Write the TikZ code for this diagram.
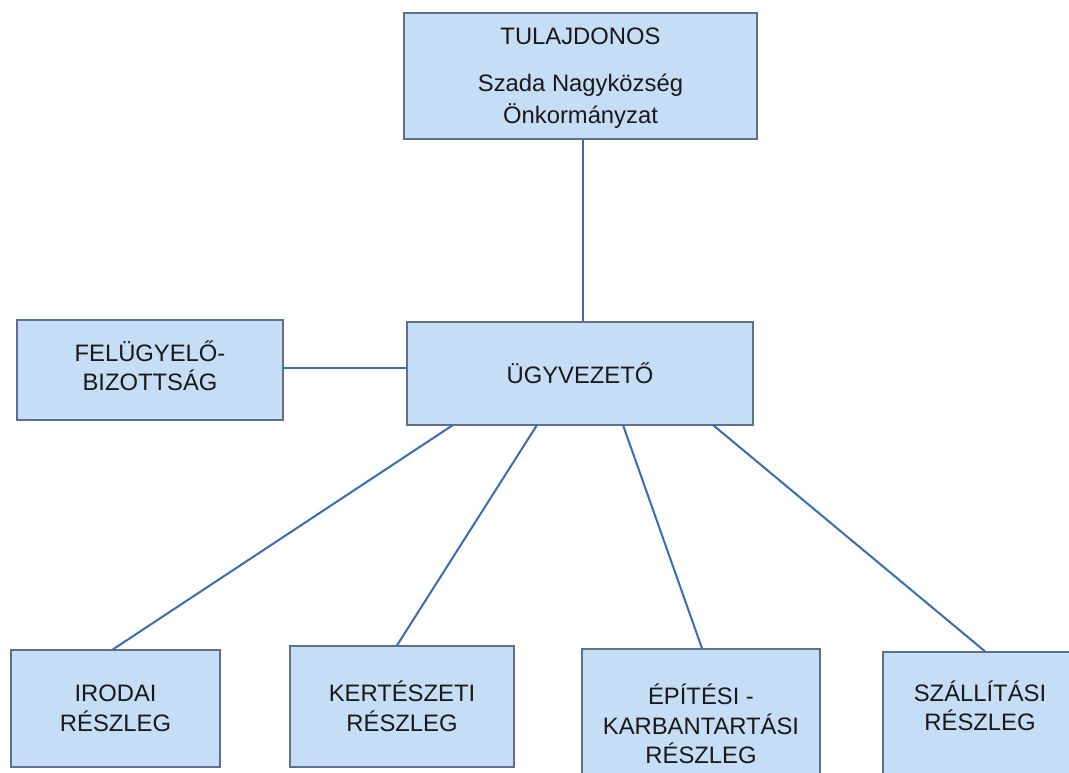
\documentclass[tikz,border=0pt]{standalone}
\usepackage{fontspec}
\setmainfont{Liberation Sans}
\definecolor{boxfill}{RGB}{197,222,246}
\definecolor{boxdraw}{RGB}{95,112,140}
\definecolor{linecol}{RGB}{58,108,178}
\definecolor{txtcol}{RGB}{25,25,25}
\begin{document}
\begin{tikzpicture}[x=1pt,y=-1pt,
  box/.style={draw=boxdraw, line width=1.3pt, fill=boxfill, rectangle, inner sep=0pt,
    align=center, text=txtcol, font=\fontsize{23.8}{29.5}\selectfont},
  txt/.style={inner sep=0pt, align=center, text=txtcol, font=\fontsize{23.8}{29.5}\selectfont},
  conn/.style={draw=linecol, line width=2pt}]
\useasboundingbox (0,0) rectangle (1069,772);
\clip (0,0) rectangle (1069,772);
\fill[white] (0,0) rectangle (1069,772);

\node[box, minimum width=353pt, minimum height=126pt] (tul) at (580.5,76) {};
\node[txt] (tult) at (580.5,78)
  {TULAJDONOS\\[17pt]Szada Nagyközség\\[2.5pt]Önkormányzat};
\node[box, minimum width=266pt, minimum height=100pt] (fel) at (150,370) {};
\node[txt] (felt) at (150,366) {FELÜGYELŐ-\\BIZOTTSÁG};
\node[box, minimum width=346pt, minimum height=103pt] (ugy) at (580,373.5)
  {ÜGYVEZETŐ};
\node[box, minimum width=209pt, minimum height=117pt] (iro) at (115.5,708.5)
  {IRODAI\\RÉSZLEG};
\node[box, minimum width=224pt, minimum height=121pt] (ker) at (402,706.5)
  {KERTÉSZETI\\RÉSZLEG};
\node[box, minimum width=238pt, minimum height=150pt] (epi) at (701,724)
  {ÉPÍTÉSI -\\KARBANTARTÁSI\\RÉSZLEG};
\node[box, minimum width=194pt, minimum height=160pt] (szb) at (980,732) {};
\node[txt] (szt) at (980,706) {SZÁLLÍTÁSI\\RÉSZLEG};

\coordinate (u1) at (453,425);
\coordinate (u2) at (537,425);
\coordinate (u3) at (623,425);
\coordinate (u4) at (713,425);

\draw[conn] (tul.south -| 583,0) -- (ugy.north -| 583,0);
\draw[conn] (fel.east |- 0,368) -- (ugy.west |- 0,368);
\draw[conn] (u1) -- (iro.north -| 113,0);
\draw[conn] (u2) -- (ker.north -| 397,0);
\draw[conn] (u3) -- (epi.north -| 702,0);
\draw[conn] (u4) -- (szb.north -| 985,0);
\end{tikzpicture}
\end{document}
